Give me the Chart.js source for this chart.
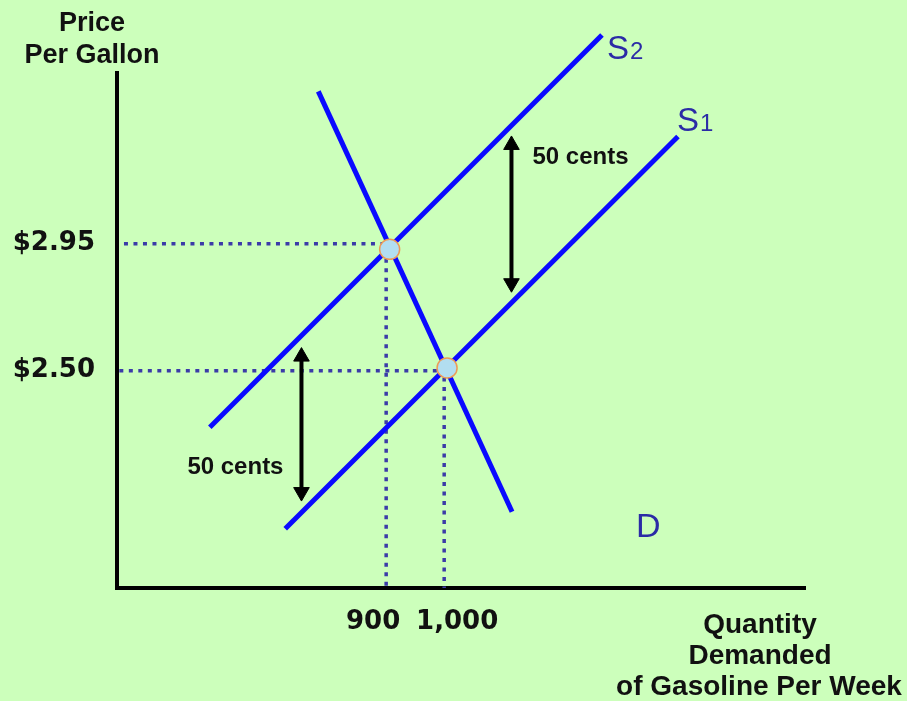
<!DOCTYPE html>
<html>
<head>
<meta charset="utf-8">
<script src="https://cdn.jsdelivr.net/npm/chart.js@4/dist/chart.umd.min.js"></script>
<style>
  html, body { margin: 0; padding: 0; background: #ccffbb; }
  #wrap { width: 907px; height: 701px; position: relative; }
</style>
</head>
<body>
<div id="wrap"><canvas id="chart"></canvas></div>
<script>
// quantity (gallons per week) and price ($ per gallon) values
const priceTicks = [2.50, 2.95];
const quantityTicks = [900, 1000];

const supply1Q = [726, 1403];
const supply1P = [1.94, 3.33];
const supply2Q = [596, 1272];
const supply2P = [2.30, 3.69];
const demandQ = [783, 1117];
const demandP = [3.49, 2.00];

const equilibriumQ = [906, 1005];
const equilibriumP = [2.93, 2.51];

const shiftUpperQ = [1116, 1116];
const shiftUpperP = [3.30, 2.81];
const shiftLowerQ = [754, 754];
const shiftLowerP = [2.55, 2.07];

const xMin = 436, xMax = 1622;
const yMin = 1.73, yMax = 3.555;

const pts = (qs, ps) => qs.map((q, i) => ({ x: q, y: ps[i] }));

const BLUE = "#0a0aff";
const DOT = "#3b3ba8";
const LABEL = "#2b2ba6";

const guide = (data) => ({
    data, showLine: true, borderColor: DOT, borderWidth: 3.5,
    borderDash: [4, 5.5], pointRadius: 0, clip: false, order: 3
});

const datasets = [
    { data: pts(equilibriumQ, equilibriumP), pointRadius: 10, pointBackgroundColor: "#b2def0",
      pointBorderColor: "#ee9a55", pointBorderWidth: 1.5, order: 0, clip: false },
    { data: pts(supply1Q, supply1P), showLine: true, borderColor: BLUE, borderWidth: 5, pointRadius: 0, clip: false, order: 1 },
    { data: pts(supply2Q, supply2P), showLine: true, borderColor: BLUE, borderWidth: 5, pointRadius: 0, clip: false, order: 1 },
    { data: pts(demandQ, demandP), showLine: true, borderColor: BLUE, borderWidth: 5, pointRadius: 0, clip: false, order: 1 },
    guide([{ x: xMin + 12, y: priceTicks[1] }, { x: equilibriumQ[0], y: priceTicks[1] }]),
    guide([{ x: xMin + 4, y: priceTicks[0] }, { x: equilibriumQ[1], y: priceTicks[0] }]),
    guide([{ x: quantityTicks[0], y: equilibriumP[0] }, { x: quantityTicks[0], y: yMin }]),
    guide([{ x: quantityTicks[1], y: equilibriumP[1] }, { x: quantityTicks[1], y: yMin }]),
    { data: pts(shiftUpperQ, shiftUpperP), showLine: true, borderColor: "#000", borderWidth: 4,
      pointStyle: "triangle", pointRadius: 9, pointRotation: [0, 180],
      pointBackgroundColor: "#000", pointBorderColor: "#000", pointBorderWidth: 1, clip: false, order: 2 },
    { data: pts(shiftLowerQ, shiftLowerP), showLine: true, borderColor: "#000", borderWidth: 4,
      pointStyle: "triangle", pointRadius: 9, pointRotation: [0, 180],
      pointBackgroundColor: "#000", pointBorderColor: "#000", pointBorderWidth: 1, clip: false, order: 2 }
];

const decorations = {
    id: "decorations",
    beforeDraw(chart) {
        const { ctx, width, height } = chart;
        ctx.save();
        ctx.fillStyle = "#ccffbb";
        ctx.fillRect(0, 0, width, height);
        ctx.restore();
    },
    afterDraw(chart) {
        const { ctx, scales: { x, y } } = chart;
        ctx.save();
        ctx.textBaseline = "alphabetic";

        // axis titles
        ctx.fillStyle = "#111";
        ctx.textAlign = "center";
        ctx.font = "bold 27px 'Liberation Sans', Arial, sans-serif";
        ctx.fillText("Price", 92, 31);
        ctx.fillText("Per Gallon", 92, 63);
        ctx.font = "bold 28px 'Liberation Sans', Arial, sans-serif";
        ctx.fillText("Quantity", 760, 633);
        ctx.fillText("Demanded", 760, 664);
        ctx.fillText("of Gasoline Per Week", 759, 695);

        // shift labels next to the arrows
        ctx.font = "bold 24px 'Liberation Sans', Arial, sans-serif";
        const ux = x.getPixelForValue(shiftUpperQ[0]);
        const uy = y.getPixelForValue(shiftUpperP[0]);
        ctx.textAlign = "left";
        ctx.fillText("50 cents", ux + 21, uy + 19);
        const lx = x.getPixelForValue(shiftLowerQ[0]);
        const ly = y.getPixelForValue(shiftLowerP[1]);
        ctx.textAlign = "right";
        ctx.fillText("50 cents", lx - 18, ly - 18);

        // curve labels
        ctx.fillStyle = LABEL;
        ctx.textAlign = "left";
        const curveLabel = (q, p, dx, dy, sub) => {
            const px = x.getPixelForValue(q) + dx;
            const py = y.getPixelForValue(p) + dy;
            ctx.font = "33px 'Liberation Sans', Arial, sans-serif";
            ctx.fillText("S", px, py);
            const w = ctx.measureText("S").width;
            ctx.font = "24px 'Liberation Sans', Arial, sans-serif";
            ctx.fillText(sub, px + w + 1, py);
        };
        curveLabel(supply2Q[1], supply2P[1], 5, 24, "2");
        curveLabel(supply1Q[1], supply1P[1], -1, -5, "1");
        ctx.font = "34px 'Liberation Sans', Arial, sans-serif";
        ctx.fillText("D", x.getPixelForValue(demandQ[1]) + 124, y.getPixelForValue(demandP[1]) + 25);
        ctx.restore();
    }
};

new Chart(document.getElementById("chart"), {
    type: "scatter",
    data: { datasets },
    options: {
        responsive: true,
        maintainAspectRatio: false,
        animation: false,
        events: [],
        layout: { padding: { top: 73, right: 102, left: 0, bottom: 0 } },
        plugins: { legend: { display: false }, tooltip: { enabled: false } },
        scales: {
            x: {
                type: "linear", min: xMin, max: xMax,
                afterFit: s => { s.height = 113; },
                afterBuildTicks: s => { s.ticks = quantityTicks.map(v => ({ value: v })); },
                grid: { display: false, drawTicks: false },
                border: { color: "#000", width: 4 },
                ticks: {
                    padding: 19, color: "#111", maxRotation: 0, autoSkip: false,
                    font: { family: "'DejaVu Sans'", weight: "bold", size: 26 },
                    callback: v => v === 900 ? "900\u2003" : "\u2003" + v.toLocaleString("en-US")
                }
            },
            y: {
                type: "linear", min: yMin, max: yMax,
                afterFit: s => { s.width = 117; },
                afterBuildTicks: s => { s.ticks = priceTicks.map(v => ({ value: v })); },
                grid: { display: false, drawTicks: false },
                border: { color: "#000", width: 4 },
                ticks: {
                    padding: 22, color: "#111", autoSkip: false,
                    font: { family: "'DejaVu Sans'", weight: "bold", size: 26 },
                    callback: v => "$" + v.toFixed(2)
                }
            }
        }
    },
    plugins: [decorations]
});
</script>
</body>
</html>
